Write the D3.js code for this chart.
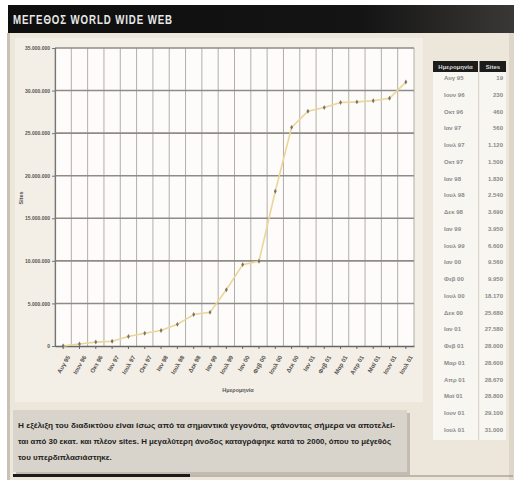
<!DOCTYPE html>
<html>
<head>
<meta charset="utf-8">
<script src="https://cdn.jsdelivr.net/npm/d3@7"></script>
<style>
  html, body { margin: 0; padding: 0; background: #ffffff; }
  svg { display: block; }
  text { font-family: "Liberation Sans", "DejaVu Sans", sans-serif; }
</style>
</head>
<body>
<svg id="chart" width="520" height="486"></svg>
<script>
// Netcraft survey snapshots: date labels and number of web sites (thousands)
const dates = ["Αυγ 95", "Ιουν 96", "Οκτ 96", "Ιαν 97", "Ιουλ 97", "Οκτ 97", "Ιαν 98",
               "Ιουλ 98", "Δεκ 98", "Ιαν 99", "Ιουλ 99", "Ιαν 00", "Φεβ 00", "Ιουλ 00",
               "Δεκ 00", "Ιαν 01", "Φεβ 01", "Μαρ 01", "Απρ 01", "Μαϊ 01", "Ιουν 01", "Ιουλ 01"];
const sitesThousands = [19, 230, 460, 560, 1120, 1500, 1830, 2540, 3690, 3950, 6600, 9560,
                        9950, 18170, 25680, 27580, 28000, 28600, 28670, 28800, 29100, 31000];
const yTicks = [0, 5000000, 10000000, 15000000, 20000000, 25000000, 30000000, 35000000];

const titleText = "ΜΕΓΕΘΟΣ WORLD WIDE WEB";
const tableHeaders = ["Ημερομηνία", "Sites"];
const xAxisTitle = "Ημερομηνία";
const yAxisTitle = "Sites";
const captionLines = [
  "Η εξέλιξη του διαδικτύου είναι ίσως από τα σημαντικά γεγονότα, φτάνοντας σήμερα να αποτελεί-",
  "ται από 30 εκατ. και πλέον sites. Η μεγαλύτερη άνοδος καταγράφηκε κατά το 2000, όπου το μέγεθός",
  "του υπερδιπλασιάστηκε."
];

const gr = d3.formatLocale({ decimal: ",", thousands: ".", grouping: [3], currency: ["", "€"] });
const fmt = gr.format(",d");

const svg = d3.select("#chart");

// page panel
svg.append("rect").attr("x", 8).attr("y", 33).attr("width", 505).attr("height", 447)
  .attr("fill", "#ede7db");
svg.append("rect").attr("x", 7).attr("y", 33).attr("width", 3).attr("height", 447)
  .attr("fill", "#c9c1b2");
svg.append("rect").attr("x", 509).attr("y", 33).attr("width", 5).attr("height", 447)
  .attr("fill", "#ddd6c9");

// title band
const defs = svg.append("defs");
const grad = defs.append("linearGradient").attr("id", "band");
grad.append("stop").attr("offset", "0%").attr("stop-color", "#0e0e0e");
grad.append("stop").attr("offset", "70%").attr("stop-color", "#141414");
grad.append("stop").attr("offset", "100%").attr("stop-color", "#3a3836");
svg.append("rect").attr("x", 8).attr("y", 5).attr("width", 506).attr("height", 28)
  .attr("fill", "url(#band)");
svg.append("text").attr("x", 13).attr("y", 24)
  .attr("fill", "#e8e8e8").attr("font-size", 13).attr("font-weight", "bold")
  .attr("letter-spacing", 1.2)
  .attr("textLength", 160).attr("lengthAdjust", "spacingAndGlyphs")
  .text(titleText);

// chart area
svg.append("rect").attr("x", 15).attr("y", 38).attr("width", 408).attr("height", 364)
  .attr("fill", "#f3efe6");

const plot = { left: 55, right: 414, top: 48, bottom: 346 };

const x = d3.scaleBand().domain(dates).range([plot.left, plot.right]).padding(0);
const y = d3.scaleLinear().domain([0, 35000000]).range([plot.bottom, plot.top]);

svg.append("rect").attr("x", plot.left).attr("y", plot.top)
  .attr("width", plot.right - plot.left).attr("height", plot.bottom - plot.top)
  .attr("fill", "#fdfcfa");

// vertical grid at category boundaries
const bounds = dates.map(d => x(d)).concat([plot.right]);
svg.append("g").selectAll("line").data(bounds).join("line")
  .attr("x1", d => d).attr("x2", d => d)
  .attr("y1", plot.top).attr("y2", plot.bottom)
  .attr("stroke", "#a9a6a0").attr("stroke-width", 0.9);

// horizontal grid
svg.append("g").selectAll("line").data(yTicks.slice(1)).join("line")
  .attr("x1", plot.left).attr("x2", plot.right)
  .attr("y1", d => y(d)).attr("y2", d => y(d))
  .attr("stroke", "#8f8c87").attr("stroke-width", 1.6);

// axes
const yAxis = svg.append("g").attr("transform", `translate(${plot.left},0)`)
  .call(d3.axisLeft(y).tickValues(yTicks).tickFormat(fmt).tickSize(3).tickPadding(2));
yAxis.select(".domain").attr("stroke", "#777").attr("stroke-width", 1.2);
yAxis.selectAll(".tick line").attr("stroke", "#777");
yAxis.selectAll("text").attr("font-size", 5).attr("font-weight", "bold").attr("fill", "#555")
  .style("font-family", "'Liberation Sans', sans-serif");

const xAxis = svg.append("g").attr("transform", `translate(0,${plot.bottom})`)
  .call(d3.axisBottom(x).tickSize(3).tickSizeOuter(0));
xAxis.select(".domain").attr("stroke", "#666").attr("stroke-width", 1.4);
xAxis.selectAll(".tick line").attr("stroke", "#666");
xAxis.selectAll("text")
  .attr("font-size", 6).attr("font-weight", "bold").attr("fill", "#555")
  .attr("text-anchor", "end")
  .attr("dx", 0).attr("dy", 0)
  .attr("transform", "translate(2,8) rotate(-60)")
  .style("font-family", "'Liberation Sans', sans-serif");

// axis titles
svg.append("text").attr("x", 238).attr("y", 392).attr("text-anchor", "middle")
  .attr("font-size", 5.5).attr("font-weight", "bold").attr("fill", "#555").text(xAxisTitle);
svg.append("text").attr("transform", "translate(23,198) rotate(-90)").attr("text-anchor", "middle")
  .attr("font-size", 5.5).attr("font-weight", "bold").attr("fill", "#555").text(yAxisTitle);

// growth line and markers
const pts = dates.map((d, i) => ({ d, v: sitesThousands[i] * 1000 }));
const line = d3.line().x(p => x(p.d) + x.bandwidth() / 2).y(p => y(p.v));
svg.append("path").datum(pts).attr("d", line)
  .attr("fill", "none").attr("stroke", "#ecd597").attr("stroke-width", 1.6);
svg.append("g").selectAll("path").data(pts).join("path")
  .attr("transform", p => `translate(${x(p.d) + x.bandwidth() / 2},${y(p.v)})`)
  .attr("d", d3.symbol(d3.symbolDiamond, 7))
  .attr("fill", "#7a7366");

// data table
const tbl = { left: 433, mid: 478, right: 506, headTop: 61, headH: 11 };
const rowY = d3.scalePoint().domain(dates).range([80, 432]);
svg.append("rect").attr("x", tbl.left).attr("y", tbl.headTop + tbl.headH)
  .attr("width", tbl.right - tbl.left).attr("height", 440 - tbl.headTop - tbl.headH)
  .attr("fill", "#f8f6f1");
svg.append("rect").attr("x", tbl.left).attr("y", tbl.headTop)
  .attr("width", tbl.mid - tbl.left).attr("height", tbl.headH).attr("fill", "#1c1c1c");
svg.append("rect").attr("x", tbl.mid + 1.5).attr("y", tbl.headTop)
  .attr("width", tbl.right - tbl.mid - 1.5).attr("height", tbl.headH).attr("fill", "#1c1c1c");
svg.append("line").attr("x1", tbl.mid + 0.7).attr("x2", tbl.mid + 0.7)
  .attr("y1", tbl.headTop + tbl.headH).attr("y2", 440)
  .attr("stroke", "#d4cfc6").attr("stroke-width", 1);
svg.append("text").attr("x", (tbl.left + tbl.mid) / 2).attr("y", tbl.headTop + 7.8)
  .attr("text-anchor", "middle").attr("font-size", 6).attr("font-weight", "bold")
  .attr("fill", "#ddd").text(tableHeaders[0]);
svg.append("text").attr("x", (tbl.mid + tbl.right) / 2 + 1).attr("y", tbl.headTop + 7.8)
  .attr("text-anchor", "middle").attr("font-size", 6).attr("font-weight", "bold")
  .attr("fill", "#ddd").text(tableHeaders[1]);
svg.append("g").selectAll("text").data(pts).join("text")
  .attr("x", 444).attr("y", p => rowY(p.d))
  .attr("font-size", 6).attr("font-weight", "bold").attr("fill", "#8a8a8a")
  .text(p => p.d);
svg.append("g").selectAll("text").data(pts).join("text")
  .attr("x", 503).attr("y", p => rowY(p.d)).attr("text-anchor", "end")
  .attr("font-size", 6).attr("font-weight", "bold").attr("fill", "#8a8a8a")
  .text(p => fmt(p.v / 1000));

// caption box
svg.append("rect").attr("x", 16).attr("y", 413).attr("width", 394).attr("height", 62)
  .attr("fill", "#c2bcb2");
svg.append("rect").attr("x", 13).attr("y", 410).attr("width", 394).attr("height", 62)
  .attr("fill", "#d9d4cb");
const capWidths = [377, 373, null];
captionLines.forEach((t, i) => {
  const tx = svg.append("text").attr("x", 18).attr("y", 428 + i * 16)
    .attr("font-size", 8).attr("font-weight", "bold").attr("fill", "#222").text(t);
  if (capWidths[i]) tx.attr("textLength", capWidths[i]).attr("lengthAdjust", "spacingAndGlyphs");
});

// bottom rules
svg.append("rect").attr("x", 13).attr("y", 474).attr("width", 177).attr("height", 3).attr("fill", "#1a1a1a");
svg.append("rect").attr("x", 190).attr("y", 475.5).attr("width", 323).attr("height", 1).attr("fill", "#8e887d");
</script>
</body>
</html>
